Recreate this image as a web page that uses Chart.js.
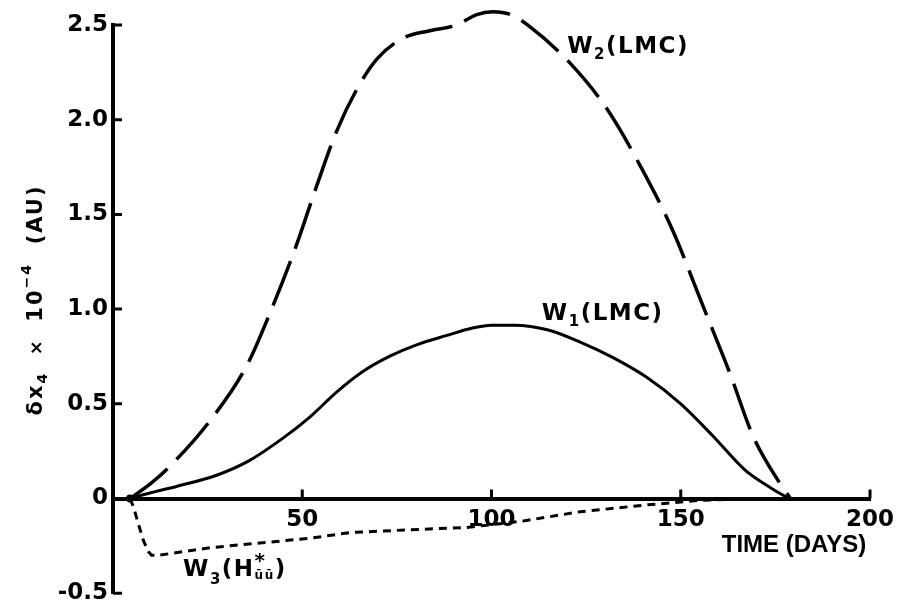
<!DOCTYPE html>
<html>
<head>
<meta charset="utf-8">
<script src="https://cdn.jsdelivr.net/npm/chart.js@4.4.0/dist/chart.umd.min.js"></script>
<style>
    html, body { margin: 0; padding: 0; background: #fff; }
</style>
</head>
<body>
<canvas id="delta-chart" width="904" height="612"></canvas>
<script>
// values (days, delta x4 x 1e-4 AU)
const w1_days = [4.5, 10, 17, 27, 36, 45, 52, 59, 66, 73, 80, 88, 95, 100, 106, 115, 123, 132, 141, 150, 158.5, 167, 173.5, 178.5];
const w1_values = [0, 0.03, 0.065, 0.12, 0.20, 0.32, 0.43, 0.56, 0.67, 0.75, 0.81, 0.86, 0.90, 0.915, 0.915, 0.89, 0.83, 0.745, 0.64, 0.50, 0.33, 0.15, 0.06, 0];

const w2_days = [4.5, 10, 15, 25.6, 35.3, 42.3, 48.5, 53.8, 59.1, 64.4, 69.7, 76.6, 83.7, 90.8, 96.1, 100.4, 105, 110.2, 120.7, 130.4, 139.2, 148, 155, 163, 169.1, 176.2, 179];
const w2_values = [0, 0.08, 0.17, 0.41, 0.70, 1.02, 1.34, 1.65, 1.94, 2.16, 2.32, 2.43, 2.47, 2.50, 2.555, 2.57, 2.555, 2.49, 2.30, 2.06, 1.76, 1.41, 1.06, 0.66, 0.33, 0.08, 0];

const w3_days = [4.5, 5.5, 6.5, 8, 9.3, 10.2, 12, 25.6, 38.8, 52, 62.6, 78.5, 93.4, 108, 123.4, 141.4, 155, 165, 171];
const w3_values = [0, -0.05, -0.12, -0.22, -0.28, -0.30, -0.30, -0.26, -0.235, -0.21, -0.18, -0.165, -0.153, -0.12, -0.07, -0.033, -0.01, -0.003, 0];

const x_tick_values = [50, 100, 150, 200];
const x_tick_labels = ["50", "100", "150", "200"];
const y_tick_values = [-0.5, 0, 0.5, 1, 1.5, 2, 2.5];
const y_tick_labels = ["-0.5", "0", "0.5", "1.0", "1.5", "2.0", "2.5"];

const digit_font = { family: "'DejaVu Sans', sans-serif", weight: "bold", size: 23 };

function to_points(days, values) {
    return days.map((d, i) => ({ x: d, y: values[i] }));
}

function draw_parts(ctx, x, y, parts) {
    // parts: [text, size, dy, keep_x] drawn one after the other
    let cx = x;
    for (const [text, size, dy, keep_x] of parts) {
        ctx.font = `bold ${size}px 'DejaVu Sans', sans-serif`;
        ctx.fillText(text, cx, y + dy);
        if (!keep_x) cx += ctx.measureText(text).width;
    }
}

const axis_marks = {
    id: "axis_marks",
    afterDraw(chart) {
        const { ctx, scales: { x, y } } = chart;
        const y0 = y.getPixelForValue(0);
        ctx.save();
        ctx.strokeStyle = "#000";
        ctx.lineWidth = 3;
        ctx.beginPath();
        y_tick_values.forEach(v => {
            const py = y.getPixelForValue(v);
            ctx.moveTo(x.left, py);
            ctx.lineTo(x.left + 9, py);
        });
        x_tick_values.forEach(v => {
            const px = x.getPixelForValue(v);
            ctx.moveTo(px, y0);
            ctx.lineTo(px, y0 - 9);
        });
        ctx.stroke();
        // blob where the curves start
        ctx.beginPath();
        ctx.arc(x.getPixelForValue(4.5), y0, 4, 0, Math.PI * 2);
        ctx.fill();
        ctx.restore();
    }
};

const text_labels = {
    id: "text_labels",
    afterDraw(chart) {
        const { ctx, scales: { x, y } } = chart;
        ctx.save();
        ctx.fillStyle = "#000";
        ctx.textBaseline = "alphabetic";
        ctx.textAlign = "left";
        ctx.letterSpacing = "1.5px";

        draw_parts(ctx, x.getPixelForValue(120), y.getPixelForValue(2.35),
            [["W", 23, 0], ["2", 15, 6], ["(LMC)", 23, 0]]);
        draw_parts(ctx, x.getPixelForValue(113.3), y.getPixelForValue(0.94),
            [["W", 23, 0], ["1", 15, 6], ["(LMC)", 23, 0]]);
        draw_parts(ctx, x.getPixelForValue(18.5), y.getPixelForValue(-0.41),
            [["W", 23, 0], ["3", 15, 8], ["(H", 23, 0], ["*", 20, -9, true], ["ūū", 12, 3], [")", 23, 0]]);

        // x axis title
        ctx.letterSpacing = "0px";
        ctx.textAlign = "right";
        ctx.font = "bold 24px 'Liberation Sans', Arial, sans-serif";
        ctx.fillText("TIME (DAYS)", x.getPixelForValue(199), y.getPixelForValue(-0.285));

        // y axis title, rotated
        ctx.translate(42, 300);
        ctx.rotate(-Math.PI / 2);
        ctx.textAlign = "left";
        ctx.letterSpacing = "2px";
        const parts = [["δx", 21, 0], ["4", 14, 5], ["  ×  ", 18, 0], ["10", 21, 0], ["−4", 14, -11], ["  (AU)", 21, 0]];
        let total = 0;
        parts.forEach(([t, s]) => {
            ctx.font = `bold ${s}px 'DejaVu Sans', sans-serif`;
            total += ctx.measureText(t).width;
        });
        draw_parts(ctx, -total / 2, 0, parts);
        ctx.restore();
    }
};

new Chart(document.getElementById("delta-chart"), {
    type: "line",
    data: {
        datasets: [
            {
                label: "W2(LMC)",
                data: to_points(w2_days, w2_values),
                borderColor: "#000",
                borderWidth: 3.5,
                borderDash: [48, 13],
                cubicInterpolationMode: "monotone",
                clip: false
            },
            {
                label: "W1(LMC)",
                data: to_points(w1_days, w1_values),
                borderColor: "#000",
                borderWidth: 3,
                cubicInterpolationMode: "monotone",
                clip: false
            },
            {
                label: "W3(H*uu)",
                data: to_points(w3_days, w3_values),
                borderColor: "#000",
                borderWidth: 3,
                borderDash: [8, 6],
                tension: 0,
                clip: false
            }
        ]
    },
    options: {
        responsive: false,
        animation: false,
        events: [],
        layout: { padding: { left: 53, right: 34, top: 25, bottom: 15 } },
        plugins: { legend: { display: false }, tooltip: { enabled: false } },
        elements: { point: { radius: 0 } },
        scales: {
            x: {
                type: "linear",
                min: 0,
                max: 200,
                position: { y: 0 },
                afterFit: s => { s.height = 0; },
                grid: { display: false, drawTicks: false },
                border: { display: true, color: "#000", width: 4 },
                ticks: {
                    stepSize: 50,
                    padding: 8,
                    color: "#000",
                    font: digit_font,
                    maxRotation: 0,
                    autoSkip: false,
                    callback: v => {
                        const i = x_tick_values.indexOf(v);
                        return i < 0 ? "" : x_tick_labels[i];
                    }
                }
            },
            y: {
                type: "linear",
                min: -0.5,
                max: 2.5,
                afterFit: s => { s.width = 60; },
                grid: { display: false, drawTicks: false },
                border: { display: true, color: "#000", width: 4 },
                ticks: {
                    stepSize: 0.5,
                    padding: 5,
                    color: "#000",
                    font: digit_font,
                    autoSkip: false,
                    callback: v => {
                        const i = y_tick_values.findIndex(t => Math.abs(t - v) < 1e-6);
                        return i < 0 ? "" : y_tick_labels[i];
                    }
                }
            }
        }
    },
    plugins: [axis_marks, text_labels]
});
</script>
</body>
</html>
